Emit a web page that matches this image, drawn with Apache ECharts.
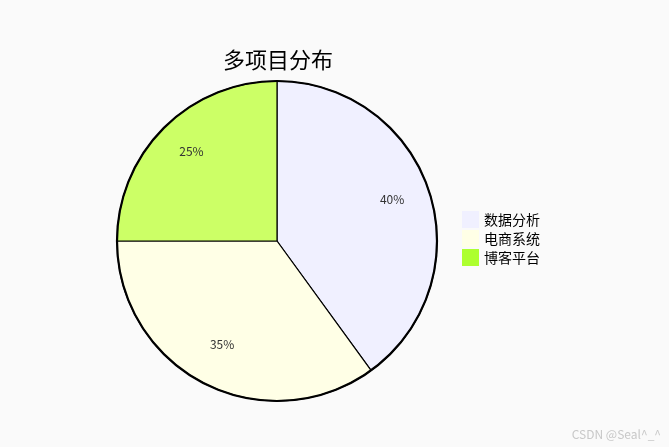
<!DOCTYPE html>
<html><head><meta charset="utf-8">
<script src="https://cdn.jsdelivr.net/npm/echarts@6/dist/echarts.min.js"></script>
<style>html,body{margin:0;padding:0;background:#fafafa}#c{width:669px;height:447px}</style>
</head><body><div id="c"></div>
<script>
var categories = ['数据分析', '电商系统', '博客平台'];
var values = [40, 35, 25];
var sliceColors = ['#f0f0ff', '#ffffe6', '#ccff66'];
var legendColors = ['#f0f0ff', '#ffffe6', '#adff2f'];
var FONT = '"Noto Sans CJK SC", "Noto Sans", sans-serif';
var chart = echarts.init(document.getElementById('c'));
var data = categories.map(function (n, i) { return { name: n, value: values[i], itemStyle: { color: sliceColors[i] } }; });
chart.setOption({
  backgroundColor: '#fafafa',
  animation: false,
  title: { text: '多项目分布', left: 218, top: 44, textStyle: { fontSize: 22, fontWeight: 'normal', color: '#000', fontFamily: FONT } },
  legend: {
    orient: 'vertical', left: 457, top: 206, itemWidth: 17, itemHeight: 17, itemGap: 2,
    textStyle: { fontSize: 14, color: '#000', fontFamily: FONT },
    data: categories.map(function (n, i) { return { name: n, icon: 'rect', itemStyle: { color: legendColors[i], borderWidth: 0 } }; })
  },
  graphic: [{ type: 'text', right: 8, bottom: 7, style: { text: 'CSDN @Seal^_^', fill: '#c8c8c8', fontSize: 12, fontFamily: FONT } }],
  series: [
    { type: 'pie', center: [277, 241], radius: 160, startAngle: 90, data: data, silent: true,
      label: { show: false }, labelLine: { show: false },
      itemStyle: { borderColor: '#000', borderWidth: 1.2 } },
    { type: 'pie', center: [277, 241], radius: [76, 160], startAngle: 90, silent: true, legendHoverLink: false,
      data: categories.map(function (n, i) { return { name: n + ' ', value: values[i] }; }),
      itemStyle: { color: 'rgba(0,0,0,0)', borderWidth: 0 },
      label: { show: true, position: 'inside', formatter: '{c}%', fontSize: 12, color: '#333', fontFamily: FONT, offset: [0, -4] },
      labelLine: { show: false } },
    { type: 'pie', center: [277, 241], radius: 160, silent: true, legendHoverLink: false,
      data: [{ name: '_', value: 1 }], label: { show: false },
      itemStyle: { color: 'rgba(0,0,0,0)', borderColor: '#000', borderWidth: 2.2 } }
  ]
});
</script></body></html>
